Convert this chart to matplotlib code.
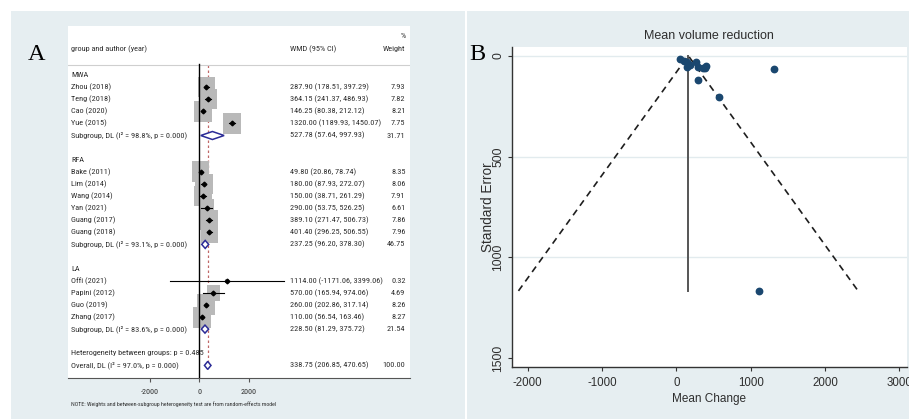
import numpy as np
import matplotlib
matplotlib.use("Agg")
import matplotlib.pyplot as plt
from matplotlib import font_manager
from matplotlib.patches import Rectangle, Polygon
import matplotlib.transforms as mtransforms

W, H = 909, 419

# ---- data: forest plot (panel A) ----
groups = ["MWA", "RFA", "LA"]
studies = ["Zhou (2018)", "Teng (2018)", "Cao (2020)", "Yue (2015)",
           "Bake (2011)", "Lim (2014)", "Wang (2014)", "Yan (2021)", "Guang (2017)", "Guang (2018)",
           "Offi (2021)", "Papini (2012)", "Guo (2019)", "Zhang (2017)"]
study_group = ["MWA"] * 4 + ["RFA"] * 6 + ["LA"] * 4
wmd = [287.90, 364.15, 146.25, 1320.00,
       49.80, 180.00, 150.00, 290.00, 389.10, 401.40,
       1114.00, 570.00, 260.00, 110.00]
ci_low = [178.51, 241.37, 80.38, 1189.93,
          20.86, 87.93, 38.71, 53.75, 271.47, 296.25,
          -1171.06, 165.94, 202.86, 56.54]
ci_high = [397.29, 486.93, 212.12, 1450.07,
           78.74, 272.07, 261.29, 526.25, 506.73, 506.55,
           3399.06, 974.06, 317.14, 163.46]
weight = [7.93, 7.82, 8.21, 7.75,
          8.35, 8.06, 7.91, 6.61, 7.86, 7.96,
          0.32, 4.69, 8.26, 8.27]

sub_i2 = [98.8, 93.1, 83.6]
sub_wmd = [527.78, 237.25, 228.50]
sub_low = [57.64, 96.20, 81.29]
sub_high = [997.93, 378.30, 375.72]
sub_weight = [31.71, 46.75, 21.54]

het_between_p = 0.485
overall_i2 = 97.0
overall_wmd, overall_low, overall_high = 338.75, 206.85, 470.65

xticks_A = [-2000, 0, 2000]

# ---- data: funnel plot (panel B) ----
se_vals = [55.8, 62.6, 33.6, 66.4,
           14.8, 47.0, 56.8, 120.5, 60.0, 53.6,
           1165.8, 206.2, 29.2, 27.3]
pooled_est = 161
xticks_B = [-2000, -1000, 0, 1000, 2000, 3000]
yticks_B = [0, 500, 1000, 1500]
grid_B = [0, 500, 1000]


def box(x0, y0, x1, y1):
    return [x0 / W, 1 - y1 / H, (x1 - x0) / W, (y1 - y0) / H]


fig = plt.figure(figsize=(W / 100, H / 100), dpi=100)
fig.patch.set_facecolor("white")
renderer = fig.canvas.get_renderer()

# Stata uses a narrow Arial in the forest table; pick a condensed face if one exists
installed = {f.name for f in font_manager.fontManager.ttflist}
narrow_name = "Liberation Sans"
for cand in ["Liberation Sans Narrow", "Arial Narrow", "Roboto Condensed",
             "Open Sans Condensed", "Noto Sans Condensed"]:
    if cand in installed:
        narrow_name = cand
        break
narrow = [narrow_name, "Liberation Sans", "DejaVu Sans"]
arial = ["Liberation Sans", "DejaVu Sans"]


def fit_size(family, sample, target_px, cap):
    t = fig.text(0, 0, sample, family=family, fontsize=10)
    w = t.get_window_extent(renderer).width
    t.remove()
    return min(cap, 10 * target_px / w)


fs = fit_size(narrow, "287.90 (178.51, 397.29)", 78, 6.4)
fs_note = fit_size(narrow, "NOTE: Weights and between-subgroup heterogeneity test are from random-effects model",
                   206, 4.6)
fs_tick = fit_size(narrow, "-2000", 18, 6.0)

bg = "#e6eef1"
fig.add_artist(Rectangle((11 / W, 0), (465 - 11) / W, 1 - 11 / H,
                         transform=fig.transFigure, facecolor=bg, edgecolor="none", zorder=0))
fig.add_artist(Rectangle((467 / W, 0), (W - 467) / W, 1 - 11 / H,
                         transform=fig.transFigure, facecolor=bg, edgecolor="none", zorder=0))

tcol = "#2e2e2e"

# ================= Panel A: forest plot =================
axA = fig.add_axes(box(68, 26, 410, 378))
axA.set_facecolor("white")
axA.set_xlim(-5284, 8479)
axA.set_ylim(25.04, -4.05)
for s in ["top", "right", "left"]:
    axA.spines[s].set_visible(False)
axA.spines["bottom"].set_color("#555555")
axA.set_yticks([])
axA.set_xticks(xticks_A)
axA.set_xticklabels([str(v) for v in xticks_A], family=narrow, fontsize=fs_tick, color=tcol)
axA.tick_params(axis="x", length=3, width=0.8, color="#555555", pad=5)

tr = mtransforms.blended_transform_factory(axA.transAxes, axA.transData)
px_x = 0.02485   # pixels per data unit
px_y = 12.1      # pixels per row
xl, xm, xr = 0.0102, 0.649, 0.987


def cell(x, y, s, ha="left"):
    axA.text(x, y, s, transform=tr, ha=ha, va="center", family=narrow, fontsize=fs, color=tcol)


cell(xr, -3.2, "%", ha="right")
cell(xl, -2.15, "group and author (year)")
cell(xm, -2.15, "WMD (95% CI)")
cell(xr, -2.15, "Weight", ha="right")
axA.plot([0, 1], [-0.83, -0.83], transform=tr, color="#cfcfcf", lw=0.8)

diamond_col = "#2b2b96"


def draw_diamond(row, lo, mid, hi):
    h = 4.0 / px_y
    axA.add_patch(Polygon([[lo, row], [mid, row - h], [hi, row], [mid, row + h]], closed=True,
                          facecolor="white", edgecolor=diamond_col, lw=1.1, zorder=4))


row = 0
for g_idx, g in enumerate(groups):
    cell(xl, row, g)
    row += 1
    for k in range(len(studies)):
        if study_group[k] != g:
            continue
        bw = 6.2 * np.sqrt(weight[k]) / px_x
        bh = 7.3 * np.sqrt(weight[k]) / px_y
        axA.add_patch(Rectangle((wmd[k] - bw / 2, row - bh / 2), bw, bh,
                                facecolor="#b9b9b9", edgecolor="none", zorder=2))
        axA.plot([ci_low[k], ci_high[k]], [row, row], color="black", lw=0.8, zorder=3)
        axA.plot(wmd[k], row, marker="D", ms=2.4, color="black", zorder=3)
        cell(xl, row, studies[k])
        cell(xm, row, f"{wmd[k]:.2f} ({ci_low[k]:.2f}, {ci_high[k]:.2f})")
        cell(xr, row, f"{weight[k]:.2f}", ha="right")
        row += 1
    draw_diamond(row, sub_low[g_idx], sub_wmd[g_idx], sub_high[g_idx])
    cell(xl, row, f"Subgroup, DL (I\u00b2 = {sub_i2[g_idx]:.1f}%, p = 0.000)")
    cell(xm, row, f"{sub_wmd[g_idx]:.2f} ({sub_low[g_idx]:.2f}, {sub_high[g_idx]:.2f})")
    cell(xr, row, f"{sub_weight[g_idx]:.2f}", ha="right")
    row += 2

cell(xl, row, f"Heterogeneity between groups: p = {het_between_p:.3f}")
row += 1
draw_diamond(row, overall_low, overall_wmd, overall_high)
cell(xl, row, f"Overall, DL (I\u00b2 = {overall_i2:.1f}%, p = 0.000)")
cell(xm, row, f"{overall_wmd:.2f} ({overall_low:.2f}, {overall_high:.2f})")
cell(xr, row, "100.00", ha="right")

axA.plot([0, 0], [-0.9, 25.04], color="black", lw=1.0, zorder=3)
axA.plot([overall_wmd, overall_wmd], [-0.83, row], color="#c06868", lw=0.9,
         dashes=(2, 2), zorder=1)

fig.text(70.7 / W, 1 - 404 / H,
         "NOTE: Weights and between-subgroup heterogeneity test are from random-effects model",
         ha="left", va="center", family=narrow, fontsize=fs_note, color=tcol)
fig.text(28 / W, 1 - 59.5 / H, "A", family=["Liberation Serif", "DejaVu Serif"], fontsize=17.5,
         ha="left", va="baseline", color="black")

# ================= Panel B: funnel plot =================
axB = fig.add_axes(box(512, 47, 907, 367))
axB.set_facecolor("white")
axB.set_xlim(-2211, 3104)
axB.set_ylim(1543, -43)
for s in ["top", "right"]:
    axB.spines[s].set_visible(False)
for s in ["left", "bottom"]:
    axB.spines[s].set_color("#333333")
    axB.spines[s].set_linewidth(1.0)
for g in grid_B:
    axB.axhline(g, color="#e2ebee", lw=1.0, zorder=0)

se_max = max(se_vals)
axB.plot([pooled_est, pooled_est], [0, se_max], color="#555555", lw=1.4, zorder=2)
axB.plot([pooled_est - 1.96 * se_max, pooled_est, pooled_est + 1.96 * se_max],
         [se_max, 0, se_max], color="#1e1e1e", lw=1.2, dashes=(4, 3), zorder=2)
axB.plot(wmd, se_vals, "o", color="#1a476f", ms=4.6, zorder=3, clip_on=False)

axB.set_xticks(xticks_B)
axB.set_xticklabels([str(v) for v in xticks_B], family=arial, fontsize=8.3, color=tcol)
axB.set_yticks(yticks_B)
axB.set_yticklabels([str(v) for v in yticks_B], family=arial, fontsize=8.8, color=tcol,
                    rotation=90, va="center")
axB.tick_params(axis="both", length=3, width=0.8, color="#333333")
axB.tick_params(axis="x", pad=4)
axB.tick_params(axis="y", pad=2.5)

fig.text(709 / W, 1 - 36 / H, "Mean volume reduction", ha="center", va="center",
         family=arial, fontsize=9, color=tcol)
fig.text(709 / W, 1 - 399 / H, "Mean Change", ha="center", va="center",
         family=arial, fontsize=8.5, color=tcol)
fig.text(488 / W, 1 - 207 / H, "Standard Error", ha="center", va="center", rotation=90,
         family=arial, fontsize=9.8, color=tcol)
fig.text(469 / W, 1 - 59.5 / H, "B", family=["Liberation Serif", "DejaVu Serif"], fontsize=17.5,
         ha="left", va="baseline", color="black")

fig.savefig("out.png", dpi=100)
